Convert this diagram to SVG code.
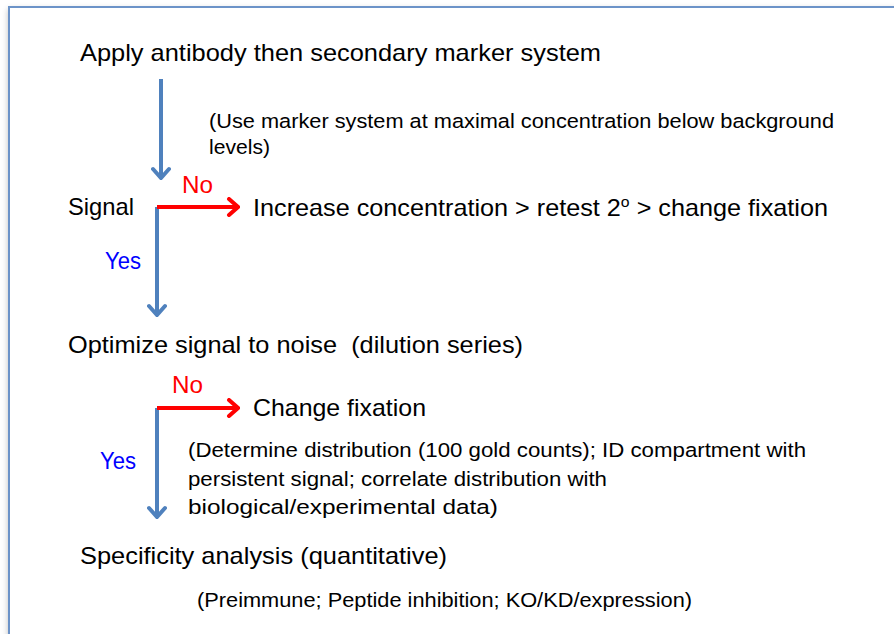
<svg xmlns="http://www.w3.org/2000/svg" width="894" height="634" viewBox="0 0 894 634">
  <defs>
    <filter id="sh" x="-5%" y="-5%" width="110%" height="110%">
      <feGaussianBlur in="SourceAlpha" stdDeviation="3"/>
      <feOffset dx="0" dy="3" result="b"/>
      <feComponentTransfer><feFuncA type="linear" slope="0.25"/></feComponentTransfer>
      <feMerge><feMergeNode/><feMergeNode in="SourceGraphic"/></feMerge>
    </filter>
    <marker id="hb" viewBox="0 0 20 20" refX="18" refY="10" markerWidth="20" markerHeight="20" markerUnits="userSpaceOnUse" orient="auto">
      <path d="M9,2 L18,10 L9,18" fill="none" stroke="#4F81BD" stroke-width="4" stroke-linecap="round" stroke-linejoin="miter"/>
    </marker>
    <marker id="hr" viewBox="0 0 20 20" refX="18" refY="10" markerWidth="20" markerHeight="20" markerUnits="userSpaceOnUse" orient="auto">
      <path d="M9,2 L18,10 L9,18" fill="none" stroke="#FF0000" stroke-width="4" stroke-linecap="round" stroke-linejoin="miter"/>
    </marker>
  </defs>
  <style>
    text { font-family: "Liberation Sans", Arial, sans-serif; fill: #000; }
    .big { font-size: 24px; }
    .small { font-size: 20.5px; }
    .no { fill: #FF0000; font-size: 23px; }
    .yes { fill: #0000FF; font-size: 23px; }
    .blue { fill: none; stroke: #4F81BD; stroke-width: 4; }
    .red { fill: none; stroke: #FF0000; stroke-width: 4; }
  </style>
  <rect width="894" height="634" fill="#FFFFFF"/>
  <rect x="9" y="7" width="900" height="660" fill="#FFFFFF" stroke="#6C93C8" stroke-width="2" filter="url(#sh)"/>

  <g id="connectors">
    <line class="blue" x1="161" y1="79" x2="161" y2="178" marker-end="url(#hb)"/>
    <path class="blue" d="M157,207 L157,315" marker-end="url(#hb)"/>
    <line class="red" x1="157" y1="207" x2="238" y2="207" marker-end="url(#hr)"/>
    <path class="blue" d="M157,408 L157,517" marker-end="url(#hb)"/>
    <line class="red" x1="157" y1="408" x2="238" y2="408" marker-end="url(#hr)"/>
    <text class="no" x="182" y="193" textLength="31" lengthAdjust="spacingAndGlyphs">No</text>
    <text class="yes" x="105" y="269" textLength="36" lengthAdjust="spacingAndGlyphs">Yes</text>
    <text class="no" x="172" y="393" textLength="31" lengthAdjust="spacingAndGlyphs">No</text>
    <text class="yes" x="100" y="469" textLength="36" lengthAdjust="spacingAndGlyphs">Yes</text>
  </g>

  <g id="apply">
    <text class="big" x="80" y="61" textLength="521" lengthAdjust="spacingAndGlyphs">Apply antibody then secondary marker system</text>
  </g>
  <g id="note-marker">
    <text class="small" x="209" y="128" textLength="625" lengthAdjust="spacingAndGlyphs">(Use marker system at maximal concentration below background</text>
    <text class="small" x="209" y="154" textLength="61" lengthAdjust="spacingAndGlyphs">levels)</text>
  </g>
  <g id="signal">
    <text class="big" x="68" y="215" textLength="66" lengthAdjust="spacingAndGlyphs">Signal</text>
  </g>
  <g id="increase">
    <text class="big" x="253" y="216" textLength="575" lengthAdjust="spacingAndGlyphs">Increase concentration &gt; retest 2<tspan dy="-9" font-size="15">o</tspan><tspan dy="9"> &gt; change fixation</tspan></text>
  </g>
  <g id="optimize">
    <text class="big" x="68" y="353" textLength="455" lengthAdjust="spacingAndGlyphs">Optimize signal to noise &#160;(dilution series)</text>
  </g>
  <g id="change-fixation">
    <text class="big" x="253" y="416" textLength="173" lengthAdjust="spacingAndGlyphs">Change fixation</text>
  </g>
  <g id="note-distribution">
    <text class="small" x="188" y="457" textLength="618" lengthAdjust="spacingAndGlyphs">(Determine distribution (100 gold counts); ID compartment with</text>
    <text class="small" x="188" y="486" textLength="419" lengthAdjust="spacingAndGlyphs">persistent signal; correlate distribution with</text>
    <text class="small" x="188" y="514" textLength="310" lengthAdjust="spacingAndGlyphs">biological/experimental data)</text>
  </g>
  <g id="specificity">
    <text class="big" x="80" y="564" textLength="367" lengthAdjust="spacingAndGlyphs">Specificity analysis (quantitative)</text>
  </g>
  <g id="note-specificity">
    <text class="small" x="197" y="607" textLength="495" lengthAdjust="spacingAndGlyphs">(Preimmune; Peptide inhibition; KO/KD/expression)</text>
  </g>
</svg>
